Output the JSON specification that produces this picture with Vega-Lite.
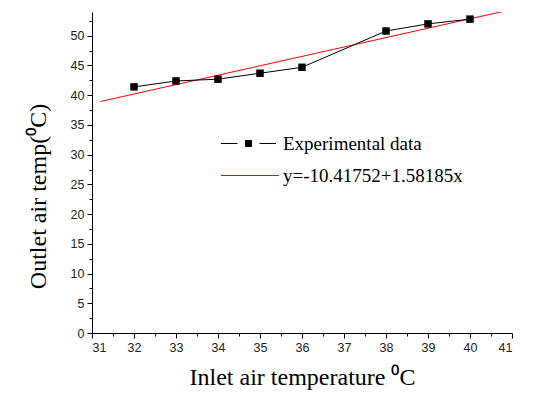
{
  "$schema": "https://vega.github.io/schema/vega-lite/v6.json",
  "width": 420,
  "height": 321,
  "autosize": {"type": "none"},
  "padding": {"left": 92, "top": 12, "right": 31, "bottom": 73},
  "background": "white",
  "config": {
    "view": {"stroke": null},
    "axis": {
      "grid": false,
      "labelFont": "Liberation Sans",
      "labelFontSize": 12.5,
      "labelColor": "#222222",
      "domainColor": "black",
      "tickColor": "black",
      "titleFont": "Liberation Serif",
      "titleFontWeight": "normal",
      "titleColor": "black"
    }
  },
  "datasets": {
    "exp": [
      {"inlet": 32, "outlet": 41.4, "series": "Experimental data"},
      {"inlet": 33, "outlet": 42.4, "series": "Experimental data"},
      {"inlet": 34, "outlet": 42.7, "series": "Experimental data"},
      {"inlet": 35, "outlet": 43.7, "series": "Experimental data"},
      {"inlet": 36, "outlet": 44.7, "series": "Experimental data"},
      {"inlet": 38, "outlet": 50.8, "series": "Experimental data"},
      {"inlet": 39, "outlet": 52.0, "series": "Experimental data"},
      {"inlet": 40, "outlet": 52.8, "series": "Experimental data"}
    ],
    "fit": [
      {"inlet": 31.2, "outlet": 38.94, "series": "y=-10.41752+1.58185x"},
      {"inlet": 40.8, "outlet": 54.12, "series": "y=-10.41752+1.58185x"}
    ]
  },
  "layer": [
    {
      "data": {"name": "fit"},
      "mark": {"type": "line", "strokeWidth": 1, "clip": true},
      "encoding": {
        "x": {
          "field": "inlet", "type": "quantitative",
          "scale": {"domain": [31, 41], "nice": false, "zero": false},
          "axis": {
            "orient": "bottom",
            "values": [31, 32, 33, 34, 35, 36, 37, 38, 39, 40, 41],
            "tickSize": 5,
            "labelPadding": 3,
            "title": "Inlet air temperature ⁰C",
            "titleFontSize": 24,
            "titlePadding": 12
          }
        },
        "y": {
          "field": "outlet", "type": "quantitative",
          "scale": {"domain": [0, 54], "nice": false},
          "axis": {
            "orient": "left",
            "values": [0, 5, 10, 15, 20, 25, 30, 35, 40, 45, 50],
            "tickSize": 5,
            "labelPadding": 3,
            "title": "Outlet air temp(⁰C)",
            "titleFontSize": 24,
            "titlePadding": 20,
            "titleY": 184
          }
        },
        "color": {
          "field": "series", "type": "nominal",
          "scale": {"domain": ["Experimental data", "y=-10.41752+1.58185x"], "range": ["black", "red"]},
          "legend": {
            "orient": "none",
            "legendX": 129,
            "legendY": 122,
            "title": null,
            "padding": 0,
            "symbolSize": 121,
            "symbolStrokeWidth": 1,
            "symbolOffset": 18,
            "labelOffset": 25,
            "labelLimit": 400,
            "rowPadding": 12,
            "labelFont": "Liberation Serif",
            "labelFontSize": 19,
            "labelColor": "black",
            "encode": {
              "symbols": {
                "update": {
                  "shape": {"signal": "datum.value === 'Experimental data' ? 'M-5,0H-2M-0.55,-0.55H0.55V0.55H-0.55ZM2,0H5' : 'M-5,0H5.5'"},
                  "fill": {"signal": "datum.value === 'Experimental data' ? 'black' : 'transparent'"}
                }
              }
            }
          }
        }
      }
    },
    {
      "data": {"name": "exp"},
      "mark": {"type": "line", "strokeWidth": 1},
      "encoding": {
        "x": {
          "field": "inlet", "type": "quantitative",
          "axis": {
            "orient": "bottom",
            "values": [31.5, 32.5, 33.5, 34.5, 35.5, 36.5, 37.5, 38.5, 39.5, 40.5],
            "tickSize": 3,
            "labels": false,
            "domain": false,
            "title": null
          }
        },
        "y": {
          "field": "outlet", "type": "quantitative",
          "axis": {
            "orient": "left",
            "values": [2.5, 7.5, 12.5, 17.5, 22.5, 27.5, 32.5, 37.5, 42.5, 47.5, 52.5],
            "tickSize": 3,
            "labels": false,
            "domain": false,
            "title": null
          }
        },
        "color": {"field": "series", "type": "nominal"}
      }
    },
    {
      "data": {"name": "exp"},
      "mark": {"type": "point", "shape": "square", "filled": true, "size": 56, "color": "black", "opacity": 1},
      "encoding": {
        "x": {"field": "inlet", "type": "quantitative", "axis": null},
        "y": {"field": "outlet", "type": "quantitative", "axis": null}
      }
    }
  ],
  "resolve": {"axis": {"x": "independent", "y": "independent"}}
}
